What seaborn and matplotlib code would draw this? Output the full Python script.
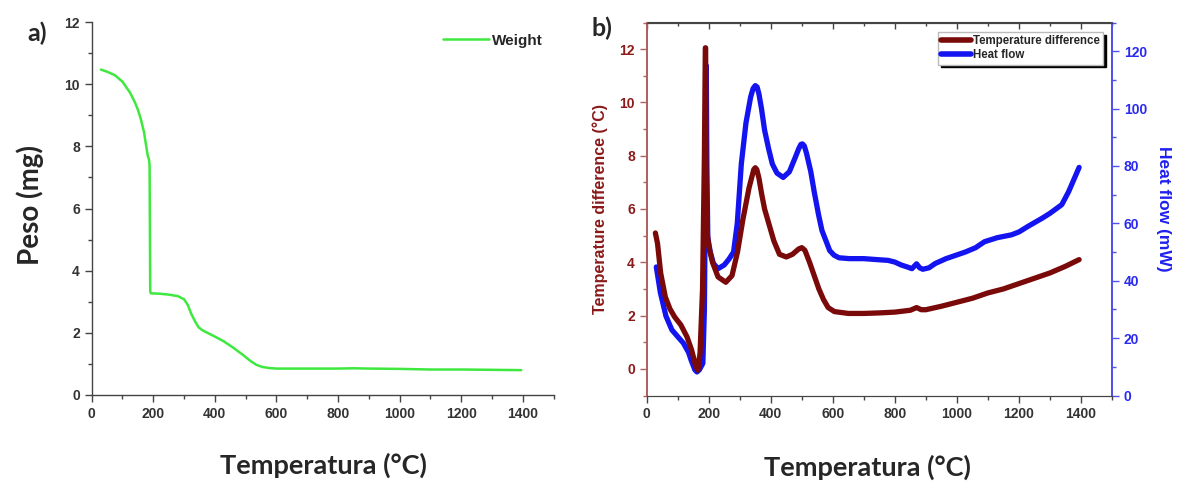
import matplotlib
matplotlib.use("Agg")
import matplotlib.pyplot as plt
from matplotlib.ticker import MultipleLocator
from matplotlib.lines import Line2D
import seaborn as sns
import pandas as pd

# ---------------- data ----------------
# Panel a: weight (TGA)
temp_a = [30, 50, 75, 100, 125, 140, 150, 160, 170, 178, 182, 186, 188, 189, 190, 192,
          220, 250, 280, 300, 312, 323, 335, 347, 360, 380, 400, 430, 460, 490, 515, 535,
          555, 575, 600, 700, 800, 850, 900, 1000, 1100, 1200, 1300, 1395]
weight = [10.47, 10.40, 10.29, 10.08, 9.72, 9.42, 9.18, 8.86, 8.45, 7.95, 7.70, 7.58, 7.40, 5.5, 3.35, 3.27,
          3.26, 3.23, 3.18, 3.08, 2.90, 2.62, 2.38, 2.18, 2.08, 1.98, 1.88, 1.72, 1.52, 1.30, 1.10, 0.97,
          0.90, 0.87, 0.85, 0.85, 0.85, 0.86, 0.85, 0.84, 0.82, 0.82, 0.81, 0.80]

# Panel b: temperature difference (DTA)
temp_td = [28, 35, 45, 60, 75, 90, 110, 130, 145, 158, 165, 172, 180, 186, 189, 190, 191, 194,
           200, 212, 230, 255, 275, 293, 310, 330, 340, 345, 350, 355, 362, 370, 380, 395, 410, 428,
           450, 470, 490, 500, 510, 525, 540, 555, 570, 585, 605, 650, 700, 750, 800, 850,
           870, 885, 900, 950, 1000, 1050, 1100, 1150, 1200, 1250, 1300, 1350, 1394]
temp_diff = [5.1, 4.7, 3.6, 2.7, 2.25, 1.95, 1.65, 1.2, 0.7, 0.1, -0.05, 0.6, 3.0, 8.0, 12.05, 12.05, 8.0, 5.2,
             4.6, 4.0, 3.45, 3.25, 3.5, 4.4, 5.6, 6.8, 7.25, 7.48, 7.55, 7.48, 7.15, 6.6, 6.0, 5.4, 4.8, 4.3,
             4.2, 4.3, 4.5, 4.55, 4.45, 4.0, 3.5, 3.0, 2.6, 2.3, 2.15, 2.08, 2.08, 2.1, 2.13, 2.2,
             2.3, 2.22, 2.22, 2.35, 2.5, 2.65, 2.85, 3.0, 3.2, 3.4, 3.6, 3.85, 4.1]

# Panel b: heat flow
temp_hf = [31, 44, 62, 81, 100, 118, 135, 143, 155, 162, 170, 181, 186, 190, 191, 192, 194, 197,
           205, 215, 230, 250, 265, 280, 292, 305, 320, 335, 343, 350, 356, 362, 370, 380, 393, 405,
           420, 440, 460, 479, 490, 497, 502, 508, 515, 529, 540, 554, 565, 579, 590, 604, 620, 653,
           700, 750, 778, 800, 820, 840, 855, 870, 880, 890, 910, 930, 965, 1000, 1027,
           1060, 1089, 1130, 1176, 1200, 1230, 1275, 1300, 1338, 1360, 1394]
heat_flow = [44.8, 35.9, 27.7, 22.9, 20.5, 18.3, 15.0, 12.4, 9.0, 8.2, 9.0, 11.2, 30, 80, 115, 115, 80, 55,
             50, 46, 44.2, 45.5, 47.5, 50, 60, 80.7, 95, 104, 107, 108, 107.5, 105, 100, 92.5, 86, 80.7,
             77.5, 76, 78, 83, 86, 87.5, 87.7, 87, 84.5, 78, 71, 63, 57.5, 53.6, 50.5, 48.9, 48, 47.7,
             47.7, 47.3, 47.1, 46.5, 45.5, 44.8, 44.2, 45.9, 44.5, 44.0, 44.5, 46, 47.7, 49, 50,
             51.5, 53.6, 55, 56, 57, 59, 61.8, 63.5, 66.5, 71, 79.5]

x_ticks = [0, 200, 400, 600, 800, 1000, 1200, 1400]

# ---------------- style ----------------
sns.set_style("ticks")
plt.rcParams['font.family'] = ['Liberation Sans', 'DejaVu Sans']
plt.rcParams['font.weight'] = 'bold'

W, H = 1184, 497
fig = plt.figure(figsize=(W / 100, H / 100), dpi=100)

def fbox(l, t, r, b):
    return [l / W, 1 - b / H, (r - l) / W, (b - t) / H]

axa = fig.add_axes(fbox(91.7, 22, 553.5, 395))
axb = fig.add_axes(fbox(646.7, 22.5, 1112, 395.5))
axr = axb.twinx()

green = '#3FE83F'
dred = '#7A0A0A'
blue = '#1414F0'
tickcol = '#333333'

# ---------------- panel a ----------------
dfa = pd.DataFrame({'T': temp_a, 'w': weight})
sns.lineplot(data=dfa, x='T', y='w', ax=axa, color=green, lw=1.8, sort=False,
             estimator=None, label='Weight')
axa.set_xlim(0, 1500)
axa.set_ylim(0, 12)
axa.set_xticks(x_ticks)
axa.xaxis.set_minor_locator(MultipleLocator(100))
axa.set_yticks(range(0, 13, 2))
axa.yaxis.set_minor_locator(MultipleLocator(1))
for s in ['top', 'right']:
    axa.spines[s].set_visible(False)
for s in ['left', 'bottom']:
    axa.spines[s].set_color('#444444')
    axa.spines[s].set_linewidth(1.0)
axa.tick_params(which='major', length=5, width=1, color='#444444', labelsize=10,
                labelcolor=tickcol, direction='out')
axa.tick_params(which='minor', length=3, width=1, color='#444444', direction='out')
axa.set_xlabel('')
axa.set_ylabel('')
for lab in axa.get_xticklabels() + axa.get_yticklabels():
    lab.set_fontweight('bold')
leg_a = axa.legend(loc='upper right', bbox_to_anchor=(556 / W, 1 - 20 / H),
                   bbox_transform=fig.transFigure, frameon=False, handlelength=3.0,
                   handletextpad=0.15, prop={'weight': 'bold', 'size': 11})

# ---------------- panel b ----------------
dft = pd.DataFrame({'T': temp_td, 'v': temp_diff})
dfh = pd.DataFrame({'T': temp_hf, 'v': heat_flow})
sns.lineplot(data=dfh, x='T', y='v', ax=axr, color=blue, lw=3.8, sort=False,
             estimator=None, legend=False)
sns.lineplot(data=dft, x='T', y='v', ax=axb, color=dred, lw=3.8, sort=False,
             estimator=None, legend=False)
axb.set_zorder(axr.get_zorder() + 1)
axb.patch.set_visible(False)

axb.set_xlim(0, 1500)
axb.set_ylim(-1, 13)
axr.set_ylim(0, 130)
axb.set_xticks(x_ticks)
axb.xaxis.set_minor_locator(MultipleLocator(100))
axb.set_yticks(range(0, 13, 2))
axb.yaxis.set_minor_locator(MultipleLocator(1))
axr.set_yticks(range(0, 121, 20))
axr.yaxis.set_minor_locator(MultipleLocator(10))

for a in (axb, axr):
    a.spines['top'].set_color('#444444')
    a.spines['bottom'].set_color('#444444')
    a.spines['left'].set_color('#B06060')
    a.spines['right'].set_color('#5050F0')
    a.spines['right'].set_linewidth(1.3)
    a.spines['left'].set_linewidth(1.3)

axb.tick_params(axis='x', which='major', length=5, width=1, color='#444444',
                labelsize=10, labelcolor=tickcol, direction='out')
axb.tick_params(axis='x', which='minor', length=3, width=1, color='#444444',
                direction='out')
axb.tick_params(axis='y', which='major', length=5, width=1, color='#B06060',
                labelsize=10, labelcolor='#8B1A1A', direction='out')
axb.tick_params(axis='y', which='minor', length=3, width=1, color='#B06060', direction='out')
axr.tick_params(axis='y', which='major', length=5, width=1, color='#5050F0',
                labelsize=10, labelcolor='#2A2AF0', direction='out')
axr.tick_params(axis='y', which='minor', length=3, width=1, color='#5050F0', direction='out')

# top ticks pointing inward
sec = axb.secondary_xaxis('top')
sec.set_xticks(x_ticks)
sec.xaxis.set_minor_locator(MultipleLocator(100))
sec.tick_params(which='major', direction='in', length=5, width=1, color='#444444',
                labeltop=False)
sec.tick_params(which='minor', direction='in', length=3, width=1, color='#444444')
sec.spines['top'].set_color('#444444')

axb.set_xlabel('')
axb.set_ylabel('Temperature difference (°C)', color='#8B1A1A', fontsize=11.5,
               fontweight='bold', labelpad=8)
axr.set_ylabel('Heat flow (mW)', color='#2020EE', fontsize=12.5, fontweight='bold',
               rotation=270, labelpad=17)
axr.set_xlabel('')
for lab in axb.get_xticklabels() + axb.get_yticklabels() + axr.get_yticklabels():
    lab.set_fontweight('bold')

handles = [Line2D([], [], color=dred, lw=4), Line2D([], [], color=blue, lw=4)]
leg_b = axb.legend(handles, ['Temperature difference', 'Heat flow'],
                   loc='upper left', bbox_to_anchor=(938 / W, 1 - 32 / H),
                   bbox_transform=fig.transFigure, fancybox=False,
                   shadow={'color': 'black', 'alpha': 1}, framealpha=1,
                   edgecolor='#BBBBBB', handlelength=2.6, handletextpad=0.15,
                   borderpad=0.3, labelspacing=0.15, borderaxespad=0,
                   prop={'weight': 'bold', 'size': 8.3})
leg_b.get_frame().set_linewidth(1.0)

# ---------------- figure texts ----------------
big = ['Lato', 'DejaVu Sans']
fig.text(37 / W, 1 - 33 / H, 'a)', fontsize=18, fontweight='bold', family=big,
         ha='center', va='center')
fig.text(602 / W, 1 - 28 / H, 'b)', fontsize=18, fontweight='bold', family=big,
         ha='center', va='center')
fig.text(30 / W, 1 - 205 / H, 'Peso (mg)', fontsize=20, fontweight='bold', family=big,
         rotation=90, ha='center', va='center')
fig.text(323 / W, 1 - 465 / H, 'Temperatura (°C)', fontsize=19.5, fontweight='bold',
         family=big, ha='center', va='center')
fig.text(867 / W, 1 - 467 / H, 'Temperatura (°C)', fontsize=19.5, fontweight='bold',
         family=big, ha='center', va='center')

fig.savefig('out.png', dpi=100)
